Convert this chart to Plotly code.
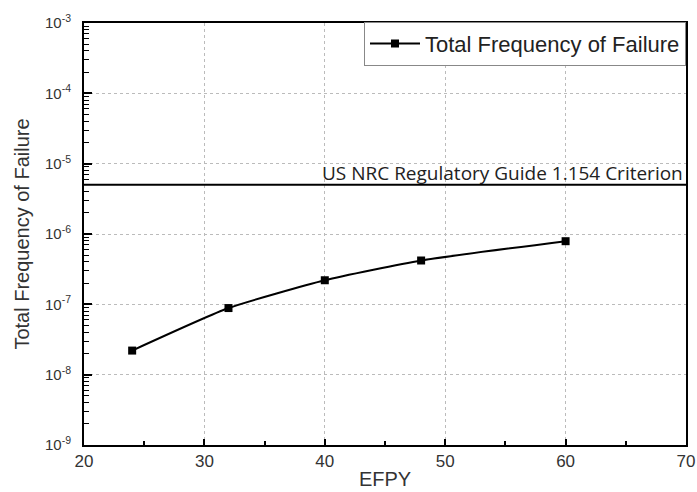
import math
import plotly.graph_objects as go

efpy = [24, 32, 40, 48, 60]
freq = [2.2e-8, 8.85e-8, 2.2e-7, 4.2e-7, 7.9e-7]
criterion = 5e-6
series_name = "Total Frequency of Failure"
criterion_label = "US NRC Regulatory Guide 1.154 Criterion"
x_ticks = [20, 30, 40, 50, 60, 70]
y_exps = [-9, -8, -7, -6, -5, -4, -3]

minor_vals = [k * 10.0 ** e for e in y_exps[:-1] for k in range(2, 10)]

fig = go.Figure()
fig.add_trace(go.Scatter(
    x=efpy, y=freq, mode="lines+markers", name=series_name,
    line=dict(color="black", width=2, shape="spline", smoothing=0.5),
    marker=dict(symbol="square", size=8, color="black"),
))
# invisible helper trace so the minor-tick axis is drawn
fig.add_trace(go.Scatter(x=[efpy[0]], y=[freq[0]], yaxis="y2", mode="markers",
                         marker=dict(opacity=0), showlegend=False, hoverinfo="skip"))

fig.add_shape(type="line", xref="paper", x0=0, x1=1, yref="y", y0=criterion, y1=criterion,
              line=dict(color="black", width=2))
fig.add_annotation(xref="paper", x=0.998, yref="y", y=math.log10(criterion), text=criterion_label,
                   showarrow=False, xanchor="right", yanchor="bottom", yshift=-3,
                   font=dict(family="Open Sans", size=19, color="#222"))

fig.update_layout(
    width=697, height=492,
    margin=dict(l=84, r=11, t=23, b=47, autoexpand=False),
    plot_bgcolor="white", paper_bgcolor="white",
    font=dict(family="Liberation Sans, Arial", color="#333", size=17),
    showlegend=True,
    legend=dict(x=1.0, xanchor="right", y=1.003, yanchor="top",
                bordercolor="#888", borderwidth=1, bgcolor="white",
                font=dict(size=22, color="#222"), itemwidth=50,
                tracegroupgap=0),
    xaxis=dict(
        title=dict(text="EFPY", font=dict(size=20, color="#333"), standoff=2),
        range=[20, 70], tickvals=x_ticks, ticktext=[str(v) for v in x_ticks],
        tickfont=dict(size=17, color="#333"),
        automargin=False,
        showline=True, linecolor="black", linewidth=2, mirror=True,
        ticks="inside", ticklen=6, tickcolor="black", tickwidth=1.5,
        minor=dict(ticks="inside", ticklen=4, dtick=5, tickcolor="black", showgrid=False),
        showgrid=True, gridcolor="#bbb", griddash="dot", gridwidth=1,
        zeroline=False,
    ),
    yaxis=dict(
        title=dict(text="Total Frequency of Failure", font=dict(size=20, color="#333"), standoff=10),
        type="log", range=[-9, -3],
        tickvals=[10 ** e for e in y_exps],
        ticktext=["10<sup>%d</sup>" % e for e in y_exps],
        tickfont=dict(size=15, color="#333"),
        ticklabelstandoff=8,
        automargin=False,
        showline=True, linecolor="black", linewidth=2, mirror=True,
        ticks="inside", ticklen=8, tickcolor="black", tickwidth=1.5,
        showgrid=True, gridcolor="#bbb", griddash="dot", gridwidth=1,
        zeroline=False,
    ),
    yaxis2=dict(
        type="log", range=[-9, -3], overlaying="y", side="left",
        tickvals=minor_vals, showticklabels=False, automargin=False,
        ticks="inside", ticklen=5, tickcolor="black", tickwidth=1,
        showgrid=False, showline=False, zeroline=False,
    ),
)

fig.write_html("out.html")
